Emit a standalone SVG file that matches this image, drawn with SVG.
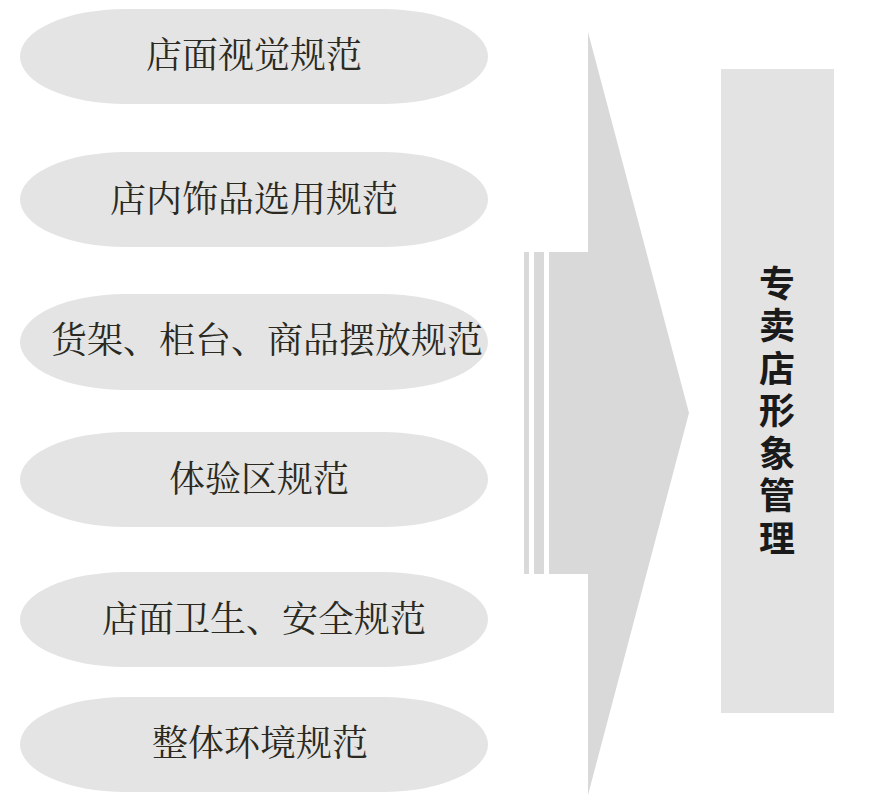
<svg xmlns="http://www.w3.org/2000/svg" width="873" height="805" viewBox="0 0 873 805">
<style>
.pill{fill:#e4e4e4}
.lbl{font-family:"Noto Serif CJK SC","Liberation Serif","Noto Sans CJK SC",serif;font-size:36px;fill:#2a2a22;text-anchor:middle;dominant-baseline:central}
.vt{font-family:"Noto Sans CJK SC",sans-serif;font-size:36px;font-weight:bold;fill:#1a1a1a;writing-mode:vertical-rl;letter-spacing:6.5px}
.arr{fill:#d9d9d9}
</style>
<rect width="873" height="805" fill="#ffffff"/>
<g id="connectors">
<rect class="arr" x="524" y="252" width="5" height="322"/>
<rect class="arr" x="534" y="252" width="10" height="322"/>
<polygon class="arr" points="549,252 588,252 588,32 689,413 588,795 588,574 549,574"/>
</g>
<g id="n1"><rect class="pill" x="20" y="9" width="468" height="95" rx="105" ry="47.5"/><text class="lbl" x="254" y="52">店面视觉规范</text></g>
<g id="n2"><rect class="pill" x="20" y="152" width="468" height="95" rx="105" ry="47.5"/><text class="lbl" x="254" y="196">店内饰品选用规范</text></g>
<g id="n3"><rect class="pill" x="20" y="294" width="468" height="96" rx="105" ry="48"/><text class="lbl" x="267" y="337">货架、柜台、商品摆放规范</text></g>
<g id="n4"><rect class="pill" x="20" y="432" width="468" height="95" rx="105" ry="47.5"/><text class="lbl" x="259" y="476">体验区规范</text></g>
<g id="n5"><rect class="pill" x="20" y="572" width="468" height="95" rx="105" ry="47.5"/><text class="lbl" x="264" y="616">店面卫生、安全规范</text></g>
<g id="n6"><rect class="pill" x="20" y="697" width="468" height="95" rx="105" ry="47.5"/><text class="lbl" x="260" y="740">整体环境规范</text></g>
<g id="target">
<rect x="721" y="69" width="113" height="644" fill="#e3e3e3"/>
<text class="vt" x="777" y="265">专卖店形象管理</text>
</g>
</svg>
